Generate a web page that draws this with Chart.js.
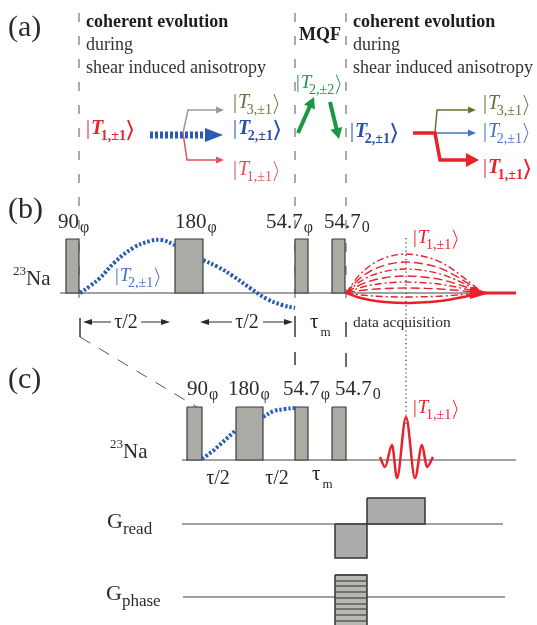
<!DOCTYPE html>
<html>
<head>
<meta charset="utf-8">
<script src="https://cdn.jsdelivr.net/npm/chart.js@4.4.1/dist/chart.umd.min.js"></script>
<style>
html, body { margin: 0; padding: 0; background: #fff; }
#wrap { width: 537px; height: 625px; position: relative; }
</style>
</head>
<body>
<div id="wrap"><canvas id="seq"></canvas></div>
<script>
// pulse sequence, all values in diagram units (x = time axis, y = level, downwards)
const pulseNames = ['90', '180', '54.7', '54.7']
const pulsePhase = ['φ', 'φ', 'φ', '0']
const pulseOnB = [66, 175, 295, 332]
const pulseOffB = [79, 203, 308, 345]
const pulseOnC = [187, 236, 295, 332]
const pulseOffC = [202, 263, 308, 346]
const labelXB = [58, 175, 266, 324]
const labelXC = [187, 228, 283, 335]

// |T2,±1> build up during tau/2 periods, panel (b)
const t2xB1 = [80, 90, 100, 115, 133, 150, 162, 175]
const t2yB1 = [293, 286, 278, 262, 248, 241, 240, 245]
const t2xB2 = [203, 218, 233, 250, 267, 282, 295]
const t2yB2 = [260, 267, 276, 288, 299, 305, 308]
// same in panel (c)
const t2xC1 = [202, 213, 224, 236]
const t2yC1 = [459, 451, 441, 430]
const t2xC2 = [263, 274, 285, 295]
const t2yC2 = [417, 411, 409, 408]

// acquisition: family of |T1,±1> signals
const acqX = [346, 358, 370, 385, 406, 425, 440, 453, 466, 480]
const acqShape = [0, 0.42, 0.7, 0.9, 1, 0.93, 0.8, 0.6, 0.35, 0.06]
const acqAmp = [39, 31, 24, 17, 11, 5, -4, -10]

// echo in panel (c)
const echoX = [380, 385, 392, 397, 406, 415, 422, 427, 433]
const echoY = [457, 467, 445, 478, 417, 478, 445, 467, 457]

// gradients
const gReadX = [335, 367, 425]
const gReadLevel = [558, 498]
const gPhaseX = [335, 367]
const gPhaseStripes = [575, 581, 586, 592, 598, 604, 609, 615, 621]

const SERIF = '"Liberation Serif", "DejaVu Serif", serif'
const RED = '#e8212b', RED_L = '#e0525e', BLUE = '#2650a6', BLUE_L = '#4a72c2'
const BLUE_DOT = '#2b5cb3', OLIVE = '#677338', GREEN = '#1c9647', INK = '#2a2a2a'
const PULSE = '#a9aba4', EDGE = '#3c3c3c'

const ds = []
const pts = (xs, ys) => xs.map((x, i) => [x, ys[i]])

line = (p, color, width, dash, opt) => {
	ds.push(Object.assign({
		data: p.map(q => ({x: q[0], y: q[1]})),
		borderColor: color, borderWidth: width, borderDash: dash || [],
		pointRadius: 0, fill: false, tension: 0
	}, opt || {}))
}
poly = (p, fillC, strokeC, width) => {
	line(p.concat([p[0]]), strokeC || 'transparent', width || 1, [], {fill: 'shape', backgroundColor: fillC})
}
rect = (x1, y1, x2, y2, fillC, strokeC, width) => {
	poly([[x1, y1], [x2, y1], [x2, y2], [x1, y2]], fillC, strokeC, width)
}
// polyline with a triangular head at the last point
arrow = (p, color, width, len, hw, dash) => {
	const [x1, y1] = p[p.length - 2], [x2, y2] = p[p.length - 1]
	const a = Math.atan2(y2 - y1, x2 - x1)
	const bx = x2 - len * Math.cos(a), by = y2 - len * Math.sin(a)
	line(p.slice(0, -1).concat([[bx + Math.cos(a), by + Math.sin(a)]]), color, width, dash)
	poly([[x2, y2], [bx + hw * Math.sin(a), by - hw * Math.cos(a)], [bx - hw * Math.sin(a), by + hw * Math.cos(a)]], color)
}

// dashed time markers
;[79, 295, 346].forEach(x => line([[x, 13], [x, 300]], '#555', 1, [9, 14]))
;[[80, 318, 337], [295, 316, 337], [346, 322, 337], [295, 352, 365], [346, 353, 367]].forEach(t => line([[t[0], t[1]], [t[0], t[2]]], '#555', 1))
line([[80, 337], [200, 409]], '#555', 1, [12, 10])
line([[406, 238], [406, 425]], '#333', 1.2, [1.2, 3])

// (a) coherence pathway arrows
arrow([[150, 135], [223, 135]], BLUE_DOT, 7, 18, 7, [3, 2])
arrow([[183, 133], [188, 110], [224, 110]], '#9a9a9a', 1.5, 8, 3.5)
arrow([[183, 133], [187, 160], [224, 160]], RED_L, 1.5, 8, 3.5)
arrow([[298, 133], [314, 97]], GREEN, 4, 11, 6)
arrow([[330, 102], [339, 139]], GREEN, 4, 11, 6)
arrow([[435, 133], [437, 110], [476, 110]], OLIVE, 1.5, 8, 3.5)
arrow([[435, 133], [476, 133]], BLUE_L, 1.5, 8, 3.5)
arrow([[413, 133], [435, 133], [440, 160], [479, 160]], RED, 3.5, 13, 7)

// (b) RF line, pulses, evolution
line([[60, 293], [508, 293]], '#444', 1.2)
pulseOnB.forEach((x, i) => rect(x, 239, pulseOffB[i], 293, PULSE, EDGE, 1.2))
line(pts(t2xB1, t2yB1), BLUE_DOT, 4, [2.5, 2], {tension: 0.4})
line(pts(t2xB2, t2yB2), BLUE_DOT, 4, [2.5, 2], {tension: 0.4})
acqAmp.forEach((a, i) => {
	const last = i === acqAmp.length - 1
	const dash = last ? [] : (i % 2 ? [9, 4] : [7, 3, 2, 3])
	line(acqX.map((x, j) => [x, 293 - a * acqShape[j]]), RED, last ? 2.5 : 1.4, dash, {cubicInterpolationMode: 'monotone'})
})
poly([[490, 293], [470, 287], [470, 299]], RED)
line([[478, 293], [516, 293]], RED, 3)
// tau arrows
arrow([[111, 322], [83, 322]], INK, 1, 9, 3)
arrow([[141, 322], [170, 322]], INK, 1, 9, 3)
arrow([[232, 322], [200, 322]], INK, 1, 9, 3)
arrow([[263, 322], [293, 322]], INK, 1, 9, 3)

// (c) RF line
line([[182, 460], [516, 460]], '#444', 1.2)
pulseOnC.forEach((x, i) => rect(x, 407, pulseOffC[i], 460, PULSE, EDGE, 1.2))
line(pts(t2xC1, t2yC1), BLUE_DOT, 4, [2.5, 2])
line(pts(t2xC2, t2yC2), BLUE_DOT, 4, [2.5, 2], {tension: 0.4})
line(pts(echoX, echoY), RED, 2.5, [], {cubicInterpolationMode: 'monotone'})

// gradients
line([[182, 524], [503, 524]], '#444', 1.2)
rect(gReadX[0], 524, gReadX[1], gReadLevel[0], '#aaacab', '#333', 1.5)
rect(gReadX[1], gReadLevel[1], gReadX[2], 524, '#aaacab', '#333', 1.5)
line([[183, 597], [505, 597]], '#444', 1.2)
rect(gPhaseX[0], 575, gPhaseX[1], 630, '#b6b8b2', '#333', 1.5)
gPhaseStripes.forEach(y => line([[gPhaseX[0], y], [gPhaseX[1], y]], '#444', 1.2))

ds.forEach((d, i) => { d.order = -i })

// text
const texts = []
txt = (x, y, runs, color, center) => texts.push({x, y, runs, color: color || INK, center})
ket = (x, y, n, m, color, bold, size) => {
	const w = bold ? 'bold ' : ''
	const sub = Math.round(size * 0.72)
	txt(x, y, [
		{t: '|', f: `${size}px ${SERIF}`},
		{t: 'T', f: `italic ${w}${size}px ${SERIF}`, pre: 1},
		{t: n + ',±' + m, f: `${w}${sub}px ${SERIF}`, dy: size * 0.32, pre: -size * 0.12},
		{angle: size, lw: bold ? 2 : 1, pre: 2}
	], color)
}
const f = (s, st) => `${st || ''} ${s}px ${SERIF}`

;[['(a)', 36], ['(b)', 218], ['(c)', 388]].forEach(p => txt(8, p[1], [{t: p[0], f: f(30)}]))
;[86, 353].forEach(x => {
	txt(x, 27, [{t: 'coherent evolution', f: f(18, 'bold')}], '#1e1e1e')
	txt(x, 50, [{t: 'during', f: f(18)}], '#333')
	txt(x, 73, [{t: 'shear induced anisotropy', f: f(18)}], '#333')
})
txt(299, 40, [{t: 'MQF', f: f(18, 'bold')}], '#1e1e1e')

ket(86, 134, 1, 1, RED, true, 20)
ket(233, 108, 3, 1, OLIVE, false, 20)
ket(233, 134, 2, 1, BLUE, true, 20)
ket(233, 175, 1, 1, RED_L, false, 20)
ket(296, 88, 2, 2, GREEN, false, 19)
ket(350, 137, 2, 1, BLUE, true, 20)
ket(483, 109, 3, 1, OLIVE, false, 20)
ket(483, 137, 2, 1, BLUE_L, false, 20)
ket(483, 173, 1, 1, RED, true, 20)
ket(115, 281, 2, 1, BLUE_L, false, 19)
ket(413, 243, 1, 1, RED, false, 19)
ket(413, 413, 1, 1, RED, false, 19)

pulseNames.forEach((n, i) => {
	txt(labelXB[i], 228, [{t: n, f: f(21)}, {t: pulsePhase[i], f: f(16), dy: 4, pre: 1}])
	txt(labelXC[i], 395, [{t: n, f: f(21)}, {t: pulsePhase[i], f: f(16), dy: 4, pre: 1}])
})
txt(13, 285, [{t: '23', f: f(13), dy: -10}, {t: 'Na', f: f(21)}])
txt(110, 458, [{t: '23', f: f(13), dy: -10}, {t: 'Na', f: f(21)}])
txt(353, 327, [{t: 'data acquisition', f: f(15.5)}])
;[[126, 328], [247, 328], [218, 484], [277, 484]].forEach(p => txt(p[0], p[1], [{t: 'τ/2', f: f(20)}], INK, true))
txt(310, 328, [{t: 'τ', f: f(21)}, {t: 'm', f: f(13), dy: 8, pre: 2}])
txt(312, 480, [{t: 'τ', f: f(21)}, {t: 'm', f: f(13), dy: 8, pre: 2}])
txt(107, 528, [{t: 'G', f: f(22)}, {t: 'read', f: f(17), dy: 6}])
txt(106, 600, [{t: 'G', f: f(22)}, {t: 'phase', f: f(17), dy: 6}])

const textPlugin = {
	id: 'diagramText',
	afterDatasetsDraw(chart) {
		const ctx = chart.ctx, xs = chart.scales.x, ys = chart.scales.y
		const width = r => r.angle ? r.angle * 0.24 : ctx.measureText(r.t).width
		ctx.save()
		ctx.textBaseline = 'alphabetic'
		texts.forEach(item => {
			let x = xs.getPixelForValue(item.x)
			const y = ys.getPixelForValue(item.y)
			if (item.center) {
				let w = 0
				item.runs.forEach(r => { if (r.f) ctx.font = r.f; w += width(r) + (r.pre || 0) })
				x -= w / 2
			}
			ctx.fillStyle = item.color
			ctx.strokeStyle = item.color
			item.runs.forEach(r => {
				x += r.pre || 0
				if (r.angle) {
					// thin closing angle bracket of the ket
					const s = r.angle
					ctx.lineWidth = r.lw
					ctx.beginPath()
					ctx.moveTo(x, y - s * 0.7)
					ctx.lineTo(x + s * 0.2, y - s * 0.2)
					ctx.lineTo(x, y + s * 0.3)
					ctx.stroke()
				} else {
					ctx.font = r.f
					ctx.fillText(r.t, x, y + (r.dy || 0))
				}
				x += width(r)
			})
		})
		ctx.restore()
	}
}

new Chart(document.getElementById('seq'), {
	type: 'line',
	data: {datasets: ds},
	options: {
		responsive: true,
		maintainAspectRatio: false,
		animation: false,
		events: [],
		layout: {padding: 0},
		plugins: {legend: {display: false}, tooltip: {enabled: false}},
		scales: {
			x: {type: 'linear', min: 0, max: 537, display: false},
			y: {type: 'linear', min: 0, max: 625, reverse: true, display: false}
		}
	},
	plugins: [textPlugin]
})
</script>
</body>
</html>
